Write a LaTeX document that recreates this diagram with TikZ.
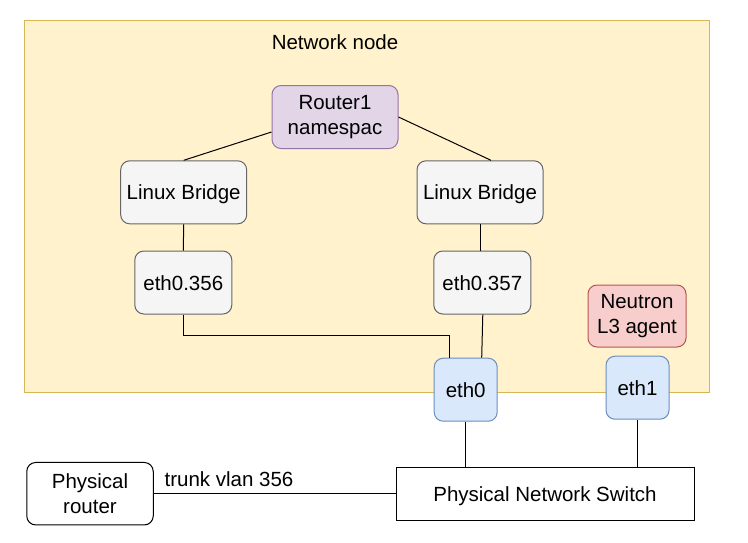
\documentclass[tikz,border=0pt]{standalone}
\usepackage{fontspec}
\setmainfont{Liberation Sans}

\definecolor{nodefill}{HTML}{FFF2CC}
\definecolor{nodeline}{HTML}{D6B656}
\definecolor{nsfill}{HTML}{E1D5E7}
\definecolor{nsline}{HTML}{9673A6}
\definecolor{devfill}{HTML}{F5F5F5}
\definecolor{devline}{HTML}{666666}
\definecolor{agentfill}{HTML}{F8CECC}
\definecolor{agentline}{HTML}{B85450}
\definecolor{nicfill}{HTML}{DAE8FC}
\definecolor{nicline}{HTML}{6C8EBF}

\begin{document}
\begin{tikzpicture}
            [
                x=1pt, y=-1pt,
                line width=1pt,
                font=\fontsize{20.5}{24.5}\selectfont,
                box/.style={draw, rounded corners=9pt, inner sep=0pt},
                oneline/.style={text height=15pt, text depth=0pt},
                devbox/.style={box, oneline, fill=devfill, draw=devline, minimum height=63pt},
                nicbox/.style={box, oneline, fill=nicfill, draw=nicline, minimum width=63pt, minimum height=63pt}
            ]
            \useasboundingbox (0,0) rectangle (748,542);

            % network node area
            \node[draw=nodeline, fill=nodefill, inner sep=0pt, anchor=north west,
                minimum width=685pt, minimum height=371.5pt] (netnode) at (23.5,20) {};
            \node (title) at (335,42) {Network node};

            \node[box, align=center, fill=nsfill, draw=nsline, minimum width=126pt, minimum height=63pt]
                (router) at (335,117) {Router1\\namespac};
            \node[devbox, minimum width=126pt] (bridgeL) at (183.7,192.3) {Linux Bridge};
            \node[devbox, minimum width=126pt] (bridgeR) at (480,192.3) {Linux Bridge};
            \node[devbox, minimum width=97pt] (vlanL) at (183.3,282.5) {eth0.356};
            \node[devbox, minimum width=97pt] (vlanR) at (482.3,282.5) {eth0.357};
            \node[box, align=center, fill=agentfill, draw=agentline, minimum width=98pt, minimum height=62pt]
                (agent) at (637,316) {Neutron\\L3 agent};
            \node[nicbox] (ethZero) at (465.7,389.7) {eth0};
            \node[nicbox] (ethOne) at (637.5,387.7) {eth1};

            % physical side
            \node[box, align=center, fill=white, minimum width=126.5pt, minimum height=62.5pt]
                (physRouter) at (90,493.7) {Physical\\router};
            \node[draw, fill=white, oneline, inner sep=0pt, minimum width=298pt, minimum height=53pt]
                (switch) at (545,493.7) {Physical Network Switch};

            \draw ([yshift=-15pt]router.west) -- (bridgeL.north);
            \draw (router.east) -- ([xshift=11pt]bridgeR.north);
            \draw (bridgeL.south) -- (vlanL.north);
            \draw (bridgeR.south) -- (bridgeR.south |- vlanR.north);
            \draw (vlanL.south) |- ([xshift=-16pt,yshift=22pt]ethZero.north) -- ([xshift=-16pt]ethZero.north);
            \draw ([xshift=0.5pt]vlanR.south) -- ([xshift=16pt]ethZero.north);
            \draw (ethZero.south) -- (ethZero.south |- switch.north);
            \draw (ethOne.south) -- (ethOne.south |- switch.north);
            \draw (physRouter.east) -- (switch.west);
            \node[anchor=west] (trunk) at ([xshift=7pt,yshift=14.5pt]physRouter.east) {trunk vlan 356};
        \end{tikzpicture}
\end{document}
